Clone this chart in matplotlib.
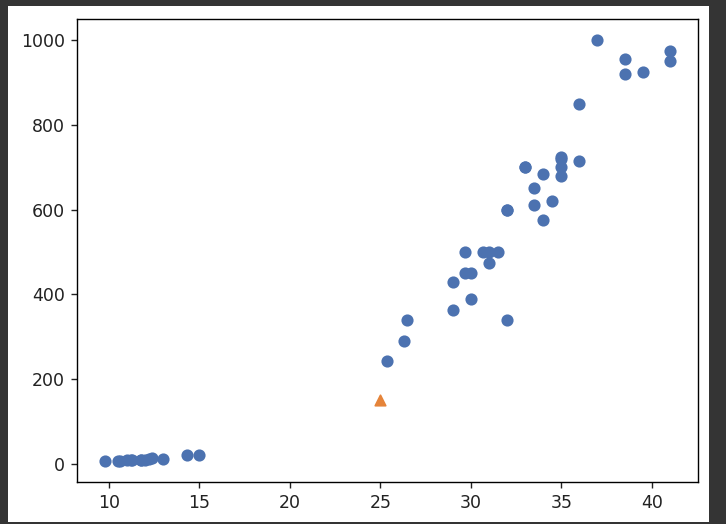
import matplotlib
matplotlib.use("Agg")
import matplotlib.pyplot as plt
from matplotlib.patches import Rectangle

bream_length = [25.4, 26.3, 26.5, 29.0, 29.0, 29.7, 29.7, 30.0, 30.0, 30.7, 31.0, 31.0,
                31.5, 32.0, 32.0, 32.0, 33.0, 33.0, 33.5, 33.5, 34.0, 34.0, 34.5, 35.0,
                35.0, 35.0, 35.0, 36.0, 36.0, 37.0, 38.5, 38.5, 39.5, 41.0, 41.0]
bream_weight = [242.0, 290.0, 340.0, 363.0, 430.0, 450.0, 500.0, 390.0, 450.0, 500.0, 475.0, 500.0,
                500.0, 340.0, 600.0, 600.0, 700.0, 700.0, 610.0, 650.0, 575.0, 685.0, 620.0, 680.0,
                700.0, 725.0, 720.0, 714.0, 850.0, 1000.0, 920.0, 955.0, 925.0, 975.0, 950.0]
smelt_length = [9.8, 10.5, 10.6, 11.0, 11.2, 11.3, 11.8, 11.8, 12.0, 12.2, 12.4, 13.0, 14.3, 15.0]
smelt_weight = [6.7, 7.5, 7.0, 9.7, 9.8, 8.7, 10.0, 9.9, 9.8, 12.2, 13.4, 12.2, 19.7, 19.9]
new_point_length = [25]
new_point_weight = [150]

length = bream_length + smelt_length
weight = bream_weight + smelt_weight

W, H = 726, 524
fig = plt.figure(figsize=(W / 125, H / 125), dpi=125, facecolor='#343434')
bg = Rectangle((8 / W, 1 - 522 / H), (709 - 8) / W, (522 - 6) / H,
               transform=fig.transFigure, facecolor='white',
               edgecolor='none', zorder=-10)
fig.add_artist(bg)
ax = fig.add_axes([77 / W, 1 - 482 / H, (698 - 77) / W, (482 - 19) / H])
ax.set_zorder(1)
ax.tick_params(colors='#222222')
ax.scatter(length, weight, color='#4C72B0')
ax.scatter(new_point_length, new_point_weight, marker='^', color='#E5843A')

fig.savefig('out.png', dpi=125, facecolor=fig.get_facecolor())
